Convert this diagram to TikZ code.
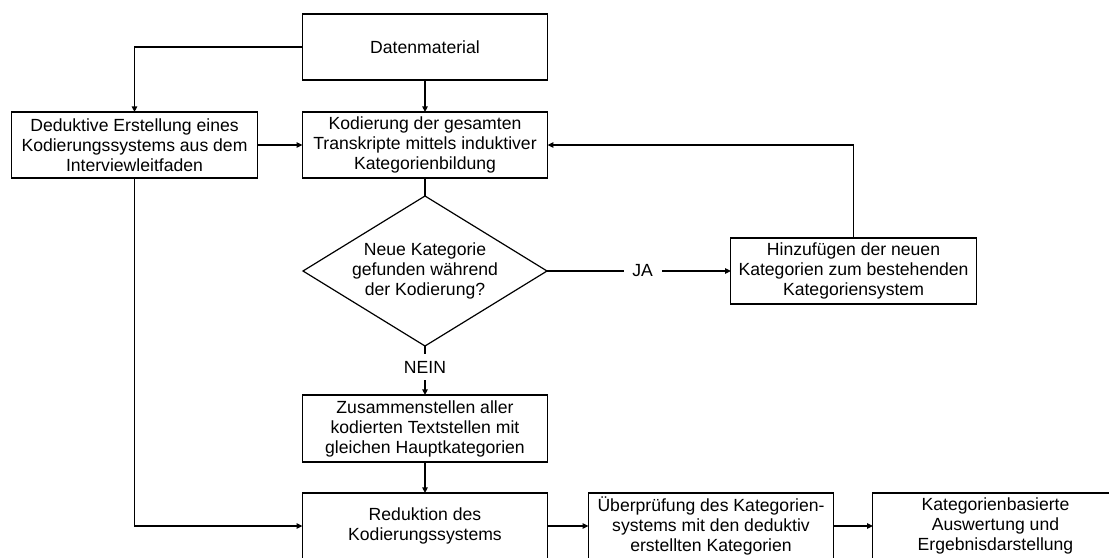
\documentclass[tikz,border=0pt]{standalone}
\usepackage{fontspec}
\setmainfont{Liberation Sans}
\usetikzlibrary{arrows.meta,shapes.geometric}

\begin{document}
\begin{tikzpicture}[
  x=0.75pt, y=-0.75pt,
  font=\fontsize{13.2}{15}\selectfont,
  line width=0.9pt,
  box/.style={draw, rectangle, align=center, inner sep=0pt, outer sep=0pt,
              minimum width=184pt, minimum height=49.5pt},
  decision/.style={draw, diamond, align=center, inner sep=0pt, outer sep=0pt,
              aspect=1.63, minimum width=183pt, minimum height=112.5pt},
  arr/.style={-{Triangle[length=4.2pt,width=4pt]}},
  lbl/.style={fill=white, inner xsep=6.5pt, inner ysep=5pt}
]
  \clip (0,0) rectangle (1109,557);
  \fill[white] (0,0) rectangle (1109,557);

  % boxes of the workflow
  \node[box] (dat) at (425,47)   {Datenmaterial};
  \node[box] (ded) at (134.5,145) {Deduktive Erstellung eines\\Kodierungssystems aus dem\\Interviewleitfaden};
  \node[box] (kod) at (425,145)  {Kodierung der gesamten\\Transkripte mittels induktiver\\Kategorienbildung};
  \node[decision] (dia) at (425,271) {Neue Kategorie\\gefunden während\\der Kodierung?};
  \node[box] (hin) at (853.5,271) {Hinzufügen der neuen\\Kategorien zum bestehenden\\Kategoriensystem};
  \node[box, minimum height=50.25pt] (zus) at (425,428.5) {Zusammenstellen aller\\kodierten Textstellen mit\\gleichen Hauptkategorien};
  \node[box] (red) at (425,526)  {Reduktion des\\Kodierungssystems};
  \node[box] (ueb) at (711,526)  {Überprüfung des Kategorien-\\systems mit den deduktiv\\erstellten Kategorien};
  \node[box] (kat) at (995.5,526) {Kategorienbasierte\\Auswertung und\\Ergebnisdarstellung};

  % connectors
  \draw[arr] (dat.west) -| (ded.north);
  \draw[arr] (dat.south) -- (kod.north);
  \draw[arr] (ded.east) -- (kod.west);
  \draw (kod.south) -- (dia.north);
  \draw[arr] (dia.east) -- node[lbl, pos=0.52] {JA} (hin.west);
  \draw[arr] (hin.north) |- (kod.east);
  \draw[arr] (dia.south) -- node[lbl, pos=0.43] {NEIN} (zus.north);
  \draw[arr] (zus.south) -- (red.north);
  \draw[arr] (ded.south) |- (red.west);
  \draw[arr] (red.east) -- (ueb.west);
  \draw[arr] (ueb.east) -- (kat.west);
\end{tikzpicture}
\end{document}
